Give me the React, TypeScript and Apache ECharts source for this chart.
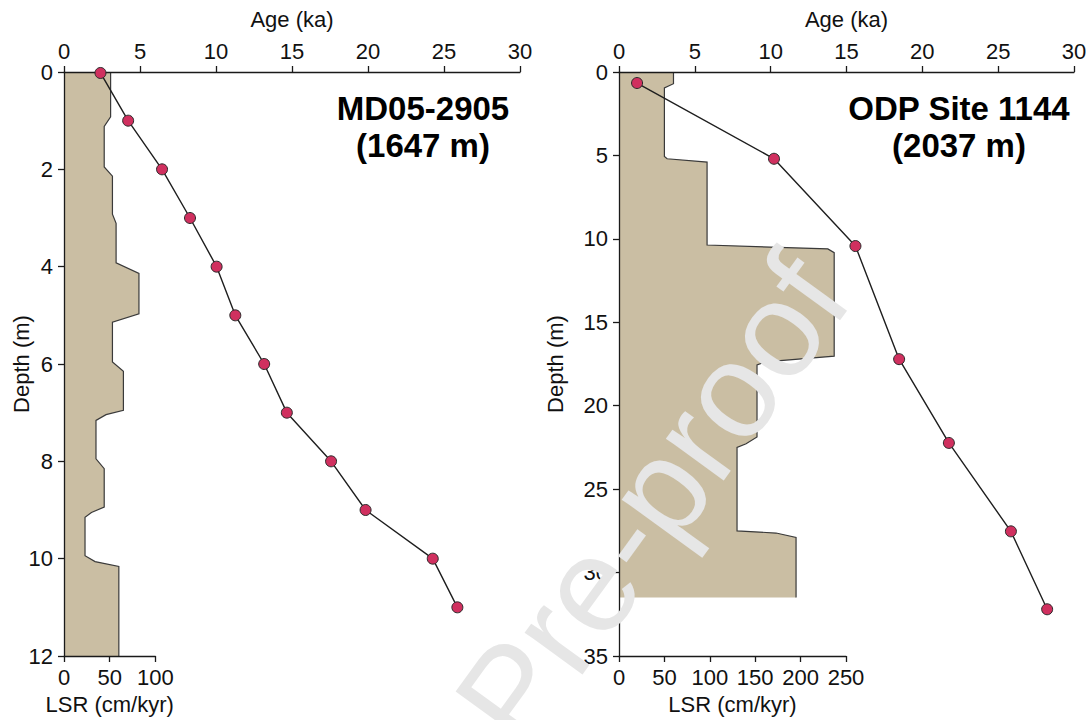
import React, { useEffect, useRef } from 'react';
import * as echarts from 'echarts';

// ---------- Data ----------
// MD05-2905 age–depth tie points
const mdAgeKa = [2.4, 4.22, 6.45, 8.29, 10.04, 11.27, 13.17, 14.66, 17.57, 19.84, 24.26, 25.88];
const mdDepthM = [0.02, 1, 2, 3, 4, 5, 6, 7, 8, 9, 10, 11];
// MD05-2905 LSR profile
const mdLsrDepthM = [0, 0.92, 1.12, 1.95, 2.14, 2.92, 3.11, 3.92, 4.14, 4.97, 5.14, 5.96, 6.15, 6.95, 7.04, 7.16, 7.95, 8.15, 8.94, 9.05, 9.15, 9.94, 10.06, 10.16, 12];
const mdLsrCmKyr = [51, 51, 44, 44, 53, 53, 57, 57, 82, 82, 53, 53, 65, 65, 46, 35, 35, 44, 44, 30, 23, 23, 34, 60, 60];

// ODP Site 1144 age–depth tie points
const odpAgeKa = [1.19, 10.22, 15.59, 18.47, 21.75, 25.84, 28.23];
const odpDepthM = [0.66, 5.2, 10.43, 17.21, 22.23, 27.53, 32.2];
// ODP Site 1144 LSR profile
const odpLsrDepthM = [0, 0.7, 0.95, 5.06, 5.2, 5.4, 10.37, 10.6, 10.83, 17.03, 17.37, 17.55, 21.87, 22.28, 22.5, 27.5, 27.63, 27.9, 31.5];
const odpLsrCmKyr = [60, 60, 50, 50, 53, 97, 97, 230, 237, 237, 161, 152, 152, 140, 130, 130, 173, 195, 195];

// Axis ranges / ticks
const ageRange = [0, 30, 5];
const mdDepthRange = [0, 12, 2];
const odpDepthRange = [0, 35, 5];
const mdLsrRange = [0, 100, 50];
const odpLsrRange = [0, 250, 50];

const titles = ['MD05-2905\n(1647 m)', 'ODP Site 1144\n(2037 m)'];
const watermark = 'Pre-proof';

// ---------- Styles ----------
const FONT = "'Liberation Sans', Arial, Helvetica, sans-serif";
const TEXT = '#111';
const AXIS = '#1a1a1a';
const FILL = '#CABEA3';
const DOT = '#D0305F';
const FS = 22;

const lineStyle = { color: AXIS, width: 1.3 };
const labelStyle = (margin: number) => ({ fontSize: FS, color: TEXT, fontFamily: FONT, margin });
const nameStyle = { fontSize: FS, color: TEXT, fontFamily: FONT };

function ageAxis(gridIndex: number) {
  return {
    gridIndex, type: 'value', position: 'top', min: ageRange[0], max: ageRange[1], interval: ageRange[2],
    name: 'Age (ka)', nameLocation: 'middle', nameGap: 42, nameTextStyle: nameStyle,
    axisLine: { show: true, onZero: false, lineStyle }, axisTick: { show: true, length: 6, lineStyle },
    axisLabel: labelStyle(10), splitLine: { show: false }, z: 3,
  };
}
function lsrAxis(gridIndex: number, r: number[]) {
  return {
    gridIndex, type: 'value', position: 'bottom', min: r[0], max: r[1], interval: r[2],
    name: 'LSR (cm/kyr)', nameLocation: 'middle', nameGap: 37, nameTextStyle: nameStyle,
    axisLine: { show: true, onZero: false, lineStyle }, axisTick: { show: true, length: 6, lineStyle },
    axisLabel: labelStyle(10), splitLine: { show: false }, z: 3,
  };
}
function depthAxis(gridIndex: number, r: number[], show: boolean, gap: number) {
  return {
    gridIndex, type: 'value', inverse: true, min: r[0], max: r[1], interval: r[2], show,
    name: show ? 'Depth (m)' : '', nameLocation: 'middle', nameGap: gap, nameTextStyle: nameStyle,
    nameMoveOverlap: false,
    axisLine: { show: true, onZero: false, lineStyle }, axisTick: { show: true, length: 6, lineStyle },
    axisLabel: labelStyle(11), splitLine: { show: false }, z: 3,
  };
}

function profileSeries(axisIndex: number, depths: number[], lsr: number[]) {
  return {
    type: 'custom', xAxisIndex: axisIndex, yAxisIndex: axisIndex, silent: true, z: 1,
    data: lsr.map((v, i) => [v, depths[i]]), encode: { x: 0, y: 1 },
    renderItem: (params: any, api: any) => {
      if (params.dataIndex !== 0) return null;
      const pts = lsr.map((v, i) => api.coord([v, depths[i]]));
      const poly = [api.coord([0, depths[0]]), ...pts, api.coord([0, depths[depths.length - 1]])];
      return {
        type: 'group',
        children: [
          { type: 'polygon', shape: { points: poly }, style: { fill: FILL, stroke: 'none' } },
          { type: 'polyline', shape: { points: pts }, style: { stroke: '#3a3a3a', lineWidth: 1.2, fill: 'none' } },
        ],
      };
    },
  };
}
function ageSeries(axisIndex: number, ages: number[], depths: number[]) {
  return {
    type: 'line', xAxisIndex: axisIndex, yAxisIndex: axisIndex, z: 5, clip: false,
    data: ages.map((a, i) => [a, depths[i]]),
    symbol: 'circle', symbolSize: 11,
    lineStyle: { color: '#1e1e1e', width: 1.4 },
    itemStyle: { color: DOT, borderColor: '#2a2a2a', borderWidth: 1 },
  };
}

const option: any = {
  animation: false,
  backgroundColor: '#fff',
  grid: [
    { left: 64, top: 72, width: 456, height: 584 },
    { left: 64, top: 72, width: 91.4, height: 584 },
    { left: 619, top: 72, width: 455, height: 584 },
    { left: 619, top: 72, width: 227, height: 584 },
  ],
  xAxis: [ageAxis(0), lsrAxis(1, mdLsrRange), ageAxis(2), lsrAxis(3, odpLsrRange)],
  yAxis: [
    depthAxis(0, mdDepthRange, true, 32),
    depthAxis(1, mdDepthRange, false, 0),
    depthAxis(2, odpDepthRange, true, 53),
    depthAxis(3, odpDepthRange, false, 0),
  ],
  series: [
    profileSeries(1, mdLsrDepthM, mdLsrCmKyr),
    profileSeries(3, odpLsrDepthM, odpLsrCmKyr),
    ageSeries(0, mdAgeKa, mdDepthM),
    ageSeries(2, odpAgeKa, odpDepthM),
  ],
  graphic: [
    {
      type: 'text', x: 423, y: 127, z: 10,
      style: { text: titles[0], font: `bold 33px ${FONT}`, fill: '#000', align: 'center', verticalAlign: 'middle', lineHeight: 37 },
    },
    {
      type: 'text', x: 959, y: 127, z: 10,
      style: { text: titles[1], font: `bold 33px ${FONT}`, fill: '#000', align: 'center', verticalAlign: 'middle', lineHeight: 37 },
    },
    {
      type: 'text', x: 652, y: 500, z: 100, rotation: (54 * Math.PI) / 180, silent: true,
      style: { text: watermark, font: `135px ${FONT}`, fill: '#e6e6e6', align: 'center', verticalAlign: 'middle' },
    },
  ],
};

export default function App() {
  const ref = useRef<HTMLDivElement>(null);
  useEffect(() => {
    const chart = echarts.init(ref.current!, null, { renderer: 'svg' });
    chart.setOption(option);
    return () => chart.dispose();
  }, []);
  return (
    <div
      ref={ref}
      style={{ position: 'fixed', left: 0, top: 0, width: 1092, height: 720, background: '#fff' }}
    />
  );
}
